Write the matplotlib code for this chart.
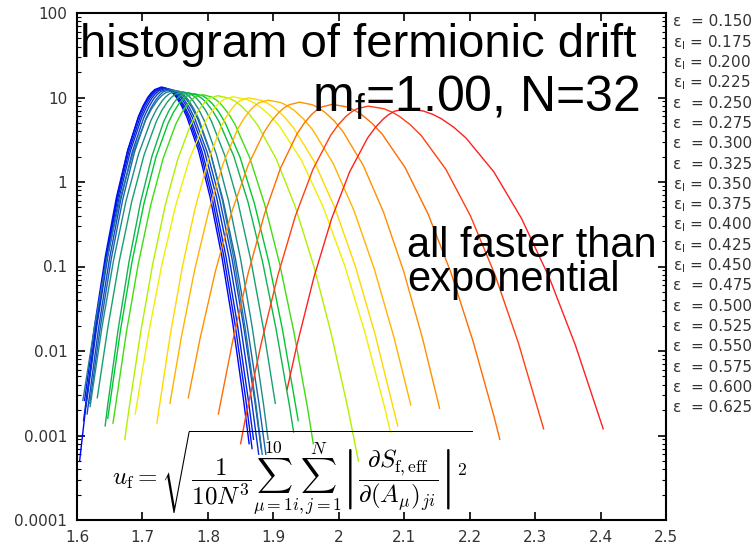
#!/usr/bin/env python3
"""
Histogram of fermionic drift, log scale, one curve per epsilon
"""
import matplotlib
matplotlib.use('Agg')
import matplotlib.pyplot as plt
from matplotlib.ticker import LogLocator, NullFormatter

plt.rcParams['font.family'] = ['DejaVu Sans']
plt.rcParams['mathtext.fontset'] = 'custom'
plt.rcParams['mathtext.rm'] = 'Liberation Sans'
plt.rcParams['mathtext.it'] = 'Liberation Sans:italic'

# epsilon values shown in the key, and which labels carry the "l" subscript
eps_values = [0.150, 0.175, 0.200, 0.225, 0.250, 0.275, 0.300, 0.325, 0.350, 0.375,
              0.400, 0.425, 0.450, 0.475, 0.500, 0.525, 0.550, 0.575, 0.600, 0.625]
eps_sub = [0, 1, 1, 1, 0, 0, 0, 0, 1, 1, 1, 1, 1, 0, 0, 0, 0, 0, 0, 0]

line_colors = ['#0000ff', '#0010f0', '#0020e0', '#0830d0', '#1048c0', '#1860b0',
               '#2078a0', '#208c88', '#18a070', '#10b450', '#00c830', '#40dc10',
               '#b0f000', '#f0f000', '#ffd800', '#ffb400', '#ff9000', '#ff6c00',
               '#ff4010', '#ff2020']

# drift value (x) and histogram height (y) for each curve
curve_x = [
    [1.604, 1.6147, 1.6296, 1.6450, 1.6613, 1.6776, 1.6938, 1.7011, 1.7084, 1.7133, 1.7187, 1.729, 1.7403, 1.7463, 1.7516, 1.7596, 1.7676, 1.7855, 1.8033, 1.8212, 1.8381, 1.8544, 1.863],
    [1.6116, 1.6273, 1.6433, 1.6603, 1.6773, 1.6943, 1.7019, 1.7095, 1.7146, 1.7203, 1.731, 1.7424, 1.7485, 1.7538, 1.7620, 1.7701, 1.7882, 1.8062, 1.8243, 1.8414, 1.8580, 1.8675],
    [1.610, 1.6293, 1.6453, 1.6623, 1.6793, 1.6963, 1.7039, 1.7115, 1.7166, 1.7223, 1.733, 1.7446, 1.7508, 1.7562, 1.7644, 1.7727, 1.7910, 1.8094, 1.8277, 1.8451, 1.8619, 1.8697],
    [1.6137, 1.6306, 1.6469, 1.6642, 1.6814, 1.6987, 1.7065, 1.7142, 1.7193, 1.7251, 1.736, 1.7478, 1.7540, 1.7595, 1.7679, 1.7763, 1.7949, 1.8135, 1.8322, 1.8498, 1.8668, 1.8776],
    [1.6154, 1.6336, 1.6499, 1.6672, 1.6844, 1.7017, 1.7095, 1.7172, 1.7223, 1.7281, 1.739, 1.7509, 1.7573, 1.7629, 1.7714, 1.7798, 1.7988, 1.8177, 1.8366, 1.8544, 1.8718, 1.8814],
    [1.6196, 1.6359, 1.6525, 1.6700, 1.6876, 1.7051, 1.7130, 1.7209, 1.7260, 1.7319, 1.743, 1.7551, 1.7616, 1.7672, 1.7758, 1.7844, 1.8036, 1.8228, 1.8420, 1.8601, 1.8777, 1.8885],
    [1.609, 1.6267, 1.6455, 1.6653, 1.6852, 1.7051, 1.7140, 1.7229, 1.7288, 1.7355, 1.748, 1.7592, 1.7652, 1.7705, 1.7785, 1.7865, 1.8043, 1.8221, 1.8399, 1.8567, 1.8731, 1.883],
    [1.620, 1.6381, 1.656, 1.675, 1.694, 1.713, 1.7215, 1.730, 1.7356, 1.742, 1.754, 1.7658, 1.7720, 1.7775, 1.7859, 1.7943, 1.8129, 1.8315, 1.8502, 1.8678, 1.8848, 1.892],
    [1.631, 1.6469, 1.6647, 1.6836, 1.7024, 1.7213, 1.7297, 1.7382, 1.7438, 1.7501, 1.762, 1.7747, 1.7815, 1.7874, 1.7964, 1.8055, 1.8256, 1.8457, 1.8658, 1.8848, 1.903],
    [1.643, 1.6469, 1.6629, 1.6795, 1.6970, 1.7146, 1.7321, 1.7400, 1.7479, 1.7530, 1.7589, 1.770, 1.7839, 1.7913, 1.7978, 1.8077, 1.8175, 1.8395, 1.8615, 1.8835, 1.9043, 1.9245, 1.931],
    [1.647, 1.6664, 1.6838, 1.7023, 1.7207, 1.7392, 1.7474, 1.7557, 1.7612, 1.7674, 1.779, 1.793, 1.8004, 1.807, 1.8169, 1.8268, 1.849, 1.8711, 1.8933, 1.9142, 1.938],
    [1.655, 1.6757, 1.6937, 1.7128, 1.7318, 1.7509, 1.7594, 1.768, 1.7736, 1.780, 1.792, 1.8064, 1.8141, 1.8208, 1.8310, 1.8413, 1.8641, 1.8868, 1.9096, 1.9312, 1.9521, 1.961],
    [1.673, 1.6796, 1.6972, 1.7155, 1.7347, 1.754, 1.7733, 1.7820, 1.7906, 1.7963, 1.8028, 1.815, 1.8329, 1.8424, 1.8508, 1.8635, 1.8762, 1.9045, 1.9329, 1.9612, 1.988, 2.0139, 2.030],
    [1.689, 1.7093, 1.7293, 1.7503, 1.7714, 1.7925, 1.8019, 1.8114, 1.8176, 1.8247, 1.838, 1.8589, 1.8701, 1.8799, 1.8948, 1.9096, 1.9428, 1.9759, 2.0091, 2.0404, 2.0708, 2.079],
    [1.722, 1.7425, 1.761, 1.7806, 1.8002, 1.8197, 1.8285, 1.8373, 1.8431, 1.8496, 1.862, 1.882, 1.8927, 1.902, 1.9163, 1.9305, 1.9622, 1.9939, 2.0256, 2.0556, 2.090],
    [1.742, 1.7595, 1.780, 1.8017, 1.8234, 1.8451, 1.8549, 1.8646, 1.8710, 1.8783, 1.892, 1.9119, 1.9224, 1.9317, 1.9458, 1.960, 1.9914, 2.0229, 2.0543, 2.0841, 2.110],
    [1.770, 1.7879, 1.8115, 1.8364, 1.8613, 1.8862, 1.8974, 1.9085, 1.9159, 1.9243, 1.940, 1.9595, 1.9698, 1.9789, 1.9928, 2.0066, 2.0374, 2.0683, 2.0991, 2.1282, 2.154],
    [1.816, 1.8379, 1.8615, 1.8864, 1.9113, 1.9362, 1.9474, 1.9585, 1.9659, 1.9743, 1.990, 2.0122, 2.0241, 2.0345, 2.0503, 2.0661, 2.1014, 2.1366, 2.1718, 2.2051, 2.2374, 2.246],
    [1.850, 1.8572, 1.8817, 1.907, 1.9337, 1.9605, 1.9872, 1.9992, 2.0112, 2.0191, 2.0281, 2.045, 2.0687, 2.0813, 2.0924, 2.1093, 2.1262, 2.1637, 2.2013, 2.2389, 2.2744, 2.313],
    [1.921, 1.936, 1.9619, 1.9892, 2.0166, 2.0439, 2.0562, 2.0685, 2.0765, 2.0857, 2.103, 2.1297, 2.1440, 2.1565, 2.1755, 2.1945, 2.2369, 2.2792, 2.3216, 2.3616, 2.404],
]
curve_y = [
    [0.0005, 0.00266, 0.0210, 0.133, 0.666, 2.37, 5.95, 8.02, 10.1, 11.3, 12.4, 13.3, 12.4, 11.3, 10.1, 8.02, 5.95, 2.37, 0.666, 0.133, 0.0210, 0.00266, 0.0008],
    [0.0026, 0.0209, 0.132, 0.661, 2.35, 5.90, 7.96, 10.0, 11.2, 12.3, 13.2, 12.3, 11.2, 10.0, 7.96, 5.90, 2.35, 0.661, 0.132, 0.0209, 0.00264, 0.0007],
    [0.0015, 0.0205, 0.130, 0.651, 2.31, 5.81, 7.84, 9.87, 11.1, 12.1, 13.0, 12.1, 11.1, 9.87, 7.84, 5.81, 2.31, 0.651, 0.130, 0.0205, 0.0026, 0.0009],
    [0.0022, 0.0204, 0.129, 0.646, 2.30, 5.77, 7.78, 9.79, 11.0, 12.0, 12.9, 12.0, 11.0, 9.79, 7.78, 5.77, 2.30, 0.646, 0.129, 0.0204, 0.00258, 0.0006],
    [0.0018, 0.0201, 0.127, 0.636, 2.26, 5.68, 7.66, 9.64, 10.8, 11.8, 12.7, 11.8, 10.8, 9.64, 7.66, 5.68, 2.26, 0.636, 0.127, 0.0201, 0.00254, 0.0007],
    [0.0024, 0.0198, 0.125, 0.626, 2.23, 5.59, 7.54, 9.49, 10.6, 11.7, 12.5, 11.7, 10.6, 9.49, 7.54, 5.59, 2.23, 0.626, 0.125, 0.0198, 0.0025, 0.0006],
    [0.0026, 0.0193, 0.122, 0.611, 2.17, 5.45, 7.36, 9.26, 10.4, 11.4, 12.2, 11.4, 10.4, 9.26, 7.36, 5.45, 2.17, 0.611, 0.122, 0.0193, 0.00244, 0.0006],
    [0.0022, 0.0190, 0.120, 0.601, 2.14, 5.36, 7.24, 9.11, 10.2, 11.2, 12.0, 11.2, 10.2, 9.11, 7.24, 5.36, 2.14, 0.601, 0.120, 0.0190, 0.0024, 0.0009],
    [0.0028, 0.0185, 0.117, 0.586, 2.08, 5.23, 7.06, 8.88, 9.96, 10.9, 11.7, 10.9, 9.96, 8.88, 7.06, 5.23, 2.08, 0.586, 0.117, 0.0185, 0.0024],
    [0.0013, 0.00228, 0.0180, 0.114, 0.571, 2.03, 5.10, 6.87, 8.65, 9.70, 10.6, 11.4, 10.6, 9.70, 8.65, 6.87, 5.10, 2.03, 0.571, 0.114, 0.0180, 0.00228, 0.0011],
    [0.0016, 0.0175, 0.111, 0.556, 1.98, 4.96, 6.69, 8.42, 9.45, 10.4, 11.1, 10.4, 9.45, 8.42, 6.69, 4.96, 1.98, 0.556, 0.111, 0.0175, 0.0015],
    [0.0014, 0.0171, 0.108, 0.541, 1.92, 4.83, 6.51, 8.20, 9.19, 10.1, 10.8, 10.1, 9.19, 8.20, 6.51, 4.83, 1.92, 0.541, 0.108, 0.0171, 0.00216, 0.0008],
    [0.0009, 0.0021, 0.0166, 0.105, 0.526, 1.87, 4.69, 6.33, 7.97, 8.94, 9.80, 10.5, 9.80, 8.94, 7.97, 6.33, 4.69, 1.87, 0.526, 0.105, 0.0166, 0.0021, 0.0005],
    [0.0018, 0.0161, 0.102, 0.511, 1.82, 4.56, 6.15, 7.74, 8.68, 9.52, 10.2, 9.52, 8.68, 7.74, 6.15, 4.56, 1.82, 0.511, 0.102, 0.0161, 0.00204, 0.0011],
    [0.0014, 0.0156, 0.099, 0.496, 1.76, 4.43, 5.97, 7.51, 8.42, 9.24, 9.9, 9.24, 8.42, 7.51, 5.97, 4.43, 1.76, 0.496, 0.099, 0.0156, 0.0013],
    [0.0024, 0.0147, 0.093, 0.466, 1.66, 4.16, 5.61, 7.06, 7.91, 8.68, 9.3, 8.68, 7.91, 7.06, 5.61, 4.16, 1.66, 0.466, 0.093, 0.0147, 0.0023],
    [0.0028, 0.0139, 0.088, 0.441, 1.57, 3.93, 5.31, 6.68, 7.49, 8.21, 8.8, 8.21, 7.49, 6.68, 5.31, 3.93, 1.57, 0.441, 0.088, 0.0139, 0.0021],
    [0.0018, 0.0131, 0.083, 0.416, 1.48, 3.71, 5.00, 6.30, 7.06, 7.74, 8.3, 7.74, 7.06, 6.30, 5.00, 3.71, 1.48, 0.416, 0.083, 0.0131, 0.00166, 0.0009],
    [0.0008, 0.00158, 0.0125, 0.079, 0.396, 1.41, 3.53, 4.76, 6.00, 6.72, 7.37, 7.9, 7.37, 6.72, 6.00, 4.76, 3.53, 1.41, 0.396, 0.079, 0.0125, 0.0012],
    [0.0035, 0.0117, 0.074, 0.371, 1.32, 3.31, 4.46, 5.62, 6.30, 6.90, 7.4, 6.90, 6.30, 5.62, 4.46, 3.31, 1.32, 0.371, 0.074, 0.0117, 0.0012],
]

x_ticks = [1.6, 1.7, 1.8, 1.9, 2.0, 2.1, 2.2, 2.3, 2.4, 2.5]
x_tick_labels = ['1.6', '1.7', '1.8', '1.9', '2', '2.1', '2.2', '2.3', '2.4', '2.5']
y_ticks = [1e-4, 1e-3, 1e-2, 1e-1, 1, 10, 100]
y_tick_labels = ['0.0001', '0.001', '0.01', '0.1', '1', '10', '100']

W, H = 756, 550
fig = plt.figure(figsize=(W / 100, H / 100), dpi=100, facecolor='white')
ax = fig.add_axes([77 / W, 30 / H, 589 / W, 507 / H])

for xs, ys, col in zip(curve_x, curve_y, line_colors):
    ax.plot(xs, ys, color=col, linewidth=1.0)

ax.set_yscale('log')
ax.set_xlim(1.6, 2.5)
ax.set_ylim(1e-4, 100)
ax.set_xticks(x_ticks)
ax.set_xticklabels(x_tick_labels)
ax.set_yticks(y_ticks)
ax.set_yticklabels(y_tick_labels)
ax.yaxis.set_minor_locator(LogLocator(base=10, subs=range(2, 10)))
ax.yaxis.set_minor_formatter(NullFormatter())
ax.tick_params(which='both', direction='in', top=True, right=True,
               colors='black', labelcolor='#333333', labelsize=11)
ax.tick_params(which='major', length=6, width=1.2)
ax.tick_params(which='minor', length=3, width=0.8)
ax.tick_params(axis='x', pad=7)
ax.tick_params(axis='y', pad=7)
for spine in ax.spines.values():
    spine.set_linewidth(1.5)
    spine.set_edgecolor('black')

# big annotations
fig.text(80 / W, 1 - 57 / H, 'histogram of fermionic drift', fontsize=34,
         family='Liberation Sans', ha='left', va='baseline')
fig.text(640 / W, 1 - 112 / H, r'm$_\mathrm{f}$=1.00, N=32', fontsize=36,
         family='Liberation Sans', math_fontfamily='custom', ha='right', va='baseline')
# baseline alignment of a two-line text goes by the last line
fig.text(407 / W, 1 - 291 / H, 'all faster than\nexponential', fontsize=30,
         family='Liberation Sans', ha='left', va='baseline', linespacing=0.8)

formula = (r'$u_\mathrm{f} = \sqrt{\dfrac{1}{10N^3}\sum_{\mu=1}^{10}\sum_{i,j=1}^{N}'
           r'\left|\dfrac{\partial S_\mathrm{f,eff}}{\partial(A_\mu)_{ji}}\right|^2}$')
fig.text(112 / W, 1 - 473 / H, formula, fontsize=18, math_fontfamily='cm',
         ha='left', va='center')

# key on the right, cut by the figure edge
for i, (eps, sub) in enumerate(zip(eps_values, eps_sub)):
    if sub:
        label = 'ε$_\\mathrm{l}$ = %.3f' % eps
    else:
        label = 'ε  = %.3f' % eps
    fig.text(673 / W, 1 - (22 + i * 20.3) / H, label, fontsize=11, color='#333333',
             math_fontfamily='dejavusans', ha='left', va='center')

fig.savefig('out.png', dpi=100, facecolor='white')
